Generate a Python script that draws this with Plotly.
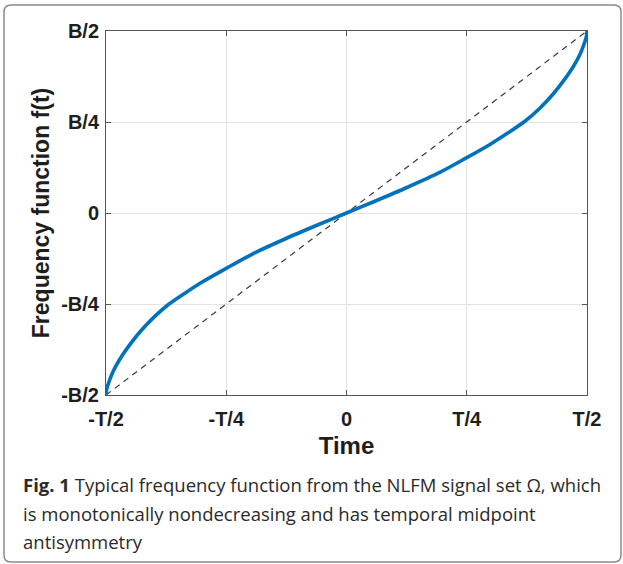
import plotly.graph_objects as go

# Normalised time (units of T) and frequency (units of B)
t_vals = [-0.5, -0.499, -0.4952, -0.4848, -0.4710, -0.4572, -0.4296, -0.4019, -0.3709,
          -0.3329, -0.2983, -0.25, -0.1948, -0.1257, -0.0566, 0.0,
          0.0566, 0.1257, 0.1948, 0.25, 0.2983, 0.3329, 0.3709, 0.4019, 0.4296,
          0.4572, 0.4710, 0.4848, 0.4952, 0.499, 0.5]
f_vals = [-0.5, -0.487, -0.469, -0.434, -0.401, -0.374, -0.327, -0.288, -0.252,
          -0.2175, -0.1883, -0.152, -0.112, -0.070, -0.031, 0.0,
          0.031, 0.070, 0.112, 0.152, 0.1883, 0.2175, 0.252, 0.288, 0.327,
          0.374, 0.401, 0.434, 0.469, 0.487, 0.5]

lfm_t = [-0.5, 0.5]
lfm_f = [-0.5, 0.5]

x_tickvals = [-0.5, -0.25, 0, 0.25, 0.5]
x_ticktext = ["-T/2", "-T/4", "0", "T/4", "T/2"]
y_tickvals = [-0.5, -0.25, 0, 0.25, 0.5]
y_ticktext = ["-B/2", "-B/4", "0", "B/4", "B/2"]

caption_lines = [
    "<b>Fig. 1</b> Typical frequency function from the NLFM signal set \u03a9, which",
    "is monotonically nondecreasing and has temporal midpoint",
    "antisymmetry",
]

W, H = 623, 564
L, R, T, B = 106, 36, 31, 169
pw, ph = W - L - R, H - T - B

def px(x):
    return (x - L) / pw

def py(y):
    return (H - B - y) / ph

fig = go.Figure()
fig.add_trace(go.Scatter(x=lfm_t, y=lfm_f, mode="lines",
                         line=dict(color="#3a3a3a", width=1.2, dash="6px,5px"),
                         showlegend=False, hoverinfo="skip"))
fig.add_trace(go.Scatter(x=t_vals, y=f_vals, mode="lines",
                         line=dict(color="#0072BD", width=3.6, shape="spline", smoothing=0.8),
                         showlegend=False))

tickfont = dict(family="Liberation Sans, Arial, sans-serif", size=20, color="#1e1e1e", weight="bold")
axis_common = dict(range=[-0.5, 0.5], ticks="inside", ticklen=5, tickcolor="#555555",
                   showline=True, linecolor="#555555", linewidth=1, mirror="ticks",
                   showgrid=True, gridcolor="#e3e3e3", gridwidth=1, zeroline=False,
                   tickfont=tickfont, fixedrange=True)

fig.update_layout(
    width=W, height=H, autosize=False,
    margin=dict(l=L, r=R, t=T, b=B, pad=0),
    paper_bgcolor="white", plot_bgcolor="white",
    xaxis=dict(axis_common, tickvals=x_tickvals, ticktext=x_ticktext, ticklabelstandoff=6,
               title=dict(text="Time", font=dict(family="Liberation Sans, Arial, sans-serif",
                                                 size=24, color="#1e1e1e", weight="bold"),
                          standoff=8)),
    yaxis=dict(axis_common, tickvals=y_tickvals, ticktext=y_ticktext, ticklabelstandoff=2,
               title=dict(text="Frequency function f(t)",
                          font=dict(family="Liberation Sans, Arial, sans-serif",
                                    size=23, color="#1e1e1e", weight="bold"),
                          standoff=5)),
)

# rounded border around the figure + caption
x0, x1, y0, y1 = px(4), px(621), py(5), py(562)
rx = 7 / pw
ry = 7 / ph
path = (f"M {x0+rx},{y0} L {x1-rx},{y0} Q {x1},{y0} {x1},{y0-ry} "
        f"L {x1},{y1+ry} Q {x1},{y1} {x1-rx},{y1} L {x0+rx},{y1} Q {x0},{y1} {x0},{y1+ry} "
        f"L {x0},{y0-ry} Q {x0},{y0} {x0+rx},{y0} Z")
fig.add_shape(type="path", path=path, xref="paper", yref="paper",
              line=dict(color="#8a8a8a", width=1.5), layer="below")

caption_y = [484, 513, 541]
for text, yy in zip(caption_lines, caption_y):
    fig.add_annotation(text=text, xref="paper", yref="paper", x=px(21), y=py(yy),
                       xanchor="left", yanchor="middle", showarrow=False,
                       font=dict(family="Open Sans, Noto Sans, sans-serif", size=18.5, color="#2a2a2a"))

fig.write_html("out.html")
